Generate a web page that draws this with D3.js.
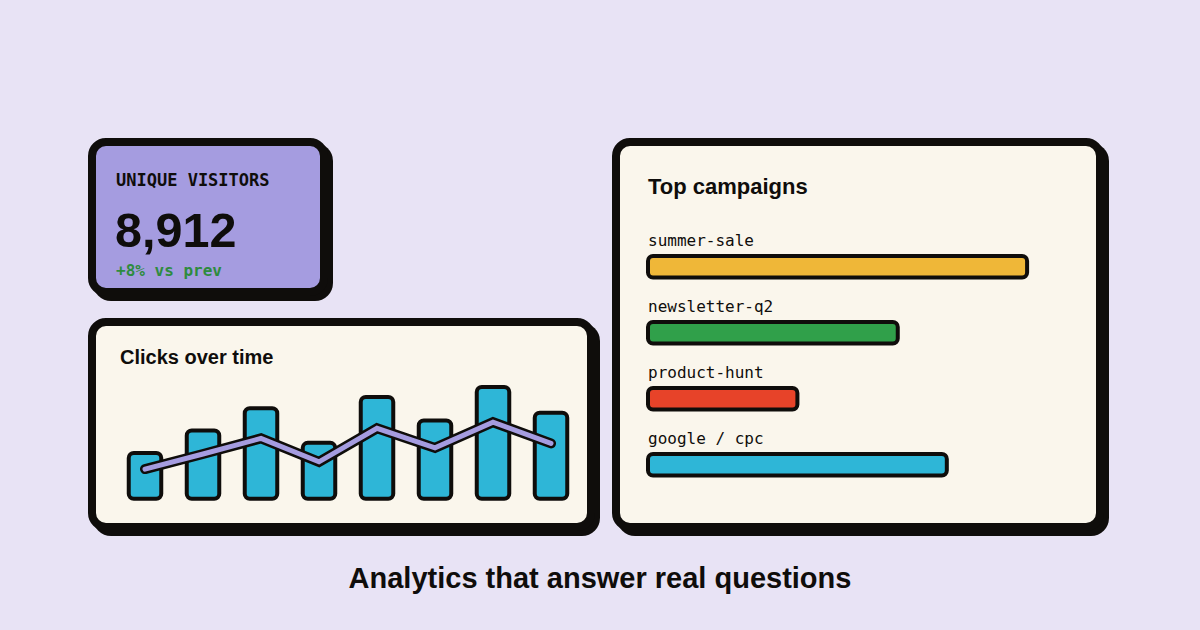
<!DOCTYPE html>
<html>
<head>
<meta charset="utf-8">
<script src="https://cdn.jsdelivr.net/npm/d3@7/dist/d3.min.js"></script>
<style>
  html, body { margin: 0; padding: 0; background: #e8e3f5; }
  svg { display: block; }
</style>
</head>
<body>
<svg id="chart" width="1200" height="630"></svg>
<script>
// ---- data ----
const kpiLabel = "UNIQUE VISITORS";
const kpiValue = 8912;
const kpiDelta = "+8% vs prev";

const clickPeriods = [1, 2, 3, 4, 5, 6, 7, 8];
const clickBars = [41, 61, 81, 50, 91, 70, 100, 77];
const clickLine = [26.5, 40, 54, 33, 63, 45.5, 68.5, 49.5];

const campaigns = ["summer-sale", "newsletter-q2", "product-hunt", "google / cpc"];
const campaignValues = [85, 56, 33.5, 67];
const campaignColors = ["#efb738", "#30a04a", "#e74329", "#2eb6d7"];

const footerText = "Analytics that answer real questions";

// ---- styles ----
const INK = "#0f0d0b";
const SANS = "'Liberation Sans', Arial, sans-serif";
const MONO = "'DejaVu Sans Mono', 'Liberation Mono', monospace";

const svg = d3.select("#chart");
svg.append("rect").attr("width", 1200).attr("height", 630).attr("fill", "#e8e3f5");

function card(x, y, w, h, fill) {
  const g = svg.append("g");
  g.append("rect")
    .attr("x", x + 5).attr("y", y + 5).attr("width", w).attr("height", h)
    .attr("rx", 18).attr("fill", INK);
  g.append("rect")
    .attr("x", x + 4).attr("y", y + 4).attr("width", w - 8).attr("height", h - 8)
    .attr("rx", 14).attr("fill", fill).attr("stroke", INK).attr("stroke-width", 8);
  return g;
}

// ---- KPI card ----
const kpi = card(88, 138, 240, 158, "#a59ce0");
kpi.append("text").attr("x", 116).attr("y", 186)
  .attr("font-family", MONO).attr("font-size", 17).attr("font-weight", 600)
  .attr("fill", INK).text(kpiLabel);
kpi.append("text").attr("x", 115).attr("y", 247)
  .attr("font-family", SANS).attr("font-size", 48.5).attr("font-weight", 700)
  .attr("fill", INK).text(d3.format(",")(kpiValue));
kpi.append("text").attr("x", 116).attr("y", 276)
  .attr("font-family", MONO).attr("font-size", 16).attr("font-weight", 700)
  .attr("fill", "#2e8b3e").text(kpiDelta);

// ---- Clicks card ----
const clicks = card(88, 318, 507, 213, "#faf6ec");
clicks.append("text").attr("x", 120).attr("y", 364)
  .attr("font-family", SANS).attr("font-size", 20).attr("font-weight", 700)
  .attr("fill", INK).text("Clicks over time");

const xc = d3.scalePoint().domain(clickPeriods).range([145, 551]);
const yc = d3.scaleLinear().domain([0, 100]).range([498.7, 387]);
const barW = 32.5;

clicks.selectAll("rect.bar").data(clickBars).join("rect")
  .attr("class", "bar")
  .attr("x", (d, i) => xc(clickPeriods[i]) - barW / 2)
  .attr("y", d => yc(d))
  .attr("width", barW)
  .attr("height", d => yc(0) - yc(d))
  .attr("rx", 5)
  .attr("fill", "#2eb6d7").attr("stroke", INK).attr("stroke-width", 4);

const line = d3.line().x((d, i) => xc(clickPeriods[i])).y(d => yc(d));
clicks.append("path").attr("d", line(clickLine))
  .attr("fill", "none").attr("stroke", INK).attr("stroke-width", 10)
  .attr("stroke-linecap", "round").attr("stroke-linejoin", "miter");
clicks.append("path").attr("d", line(clickLine))
  .attr("fill", "none").attr("stroke", "#a59ce0").attr("stroke-width", 5)
  .attr("stroke-linecap", "round").attr("stroke-linejoin", "miter");

// ---- Campaigns card ----
const camp = card(612, 138, 492, 393, "#faf6ec");
camp.append("text").attr("x", 648).attr("y", 194)
  .attr("font-family", SANS).attr("font-size", 22).attr("font-weight", 700)
  .attr("fill", INK).text("Top campaigns");

const yRow = d3.scalePoint().domain(campaigns).range([0, 198]);
const xCamp = d3.scaleLinear().domain([0, 100]).range([0, 446]);

const rows = camp.selectAll("g.row").data(campaigns).join("g")
  .attr("class", "row")
  .attr("transform", d => `translate(0,${yRow(d)})`);
rows.append("text").attr("x", 648).attr("y", 246)
  .attr("font-family", MONO).attr("font-size", 16)
  .attr("fill", INK).text(d => d);
rows.append("rect")
  .attr("x", 648).attr("y", 256)
  .attr("width", (d, i) => xCamp(campaignValues[i]))
  .attr("height", 21.5).attr("rx", 5)
  .attr("fill", (d, i) => campaignColors[i])
  .attr("stroke", INK).attr("stroke-width", 4);

// ---- footer ----
svg.append("text").attr("x", 600).attr("y", 588)
  .attr("text-anchor", "middle")
  .attr("font-family", SANS).attr("font-size", 29).attr("font-weight", 700)
  .attr("fill", INK).text(footerText);
</script>
</body>
</html>
